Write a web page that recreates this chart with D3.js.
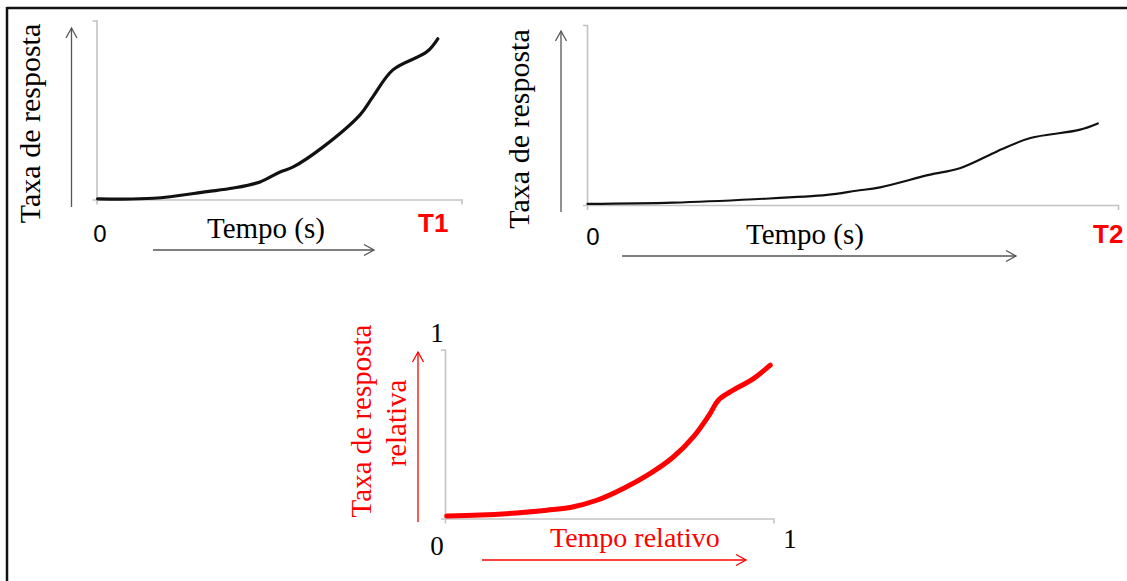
<!DOCTYPE html>
<html>
<head>
<meta charset="utf-8">
<script src="https://cdn.jsdelivr.net/npm/d3@7"></script>
<style>
  html, body { margin: 0; padding: 0; background: #fff; }
  svg { display: block; }
  .serif { font-family: "Liberation Serif", "Times New Roman", serif; }
  .sans { font-family: "Liberation Sans", Arial, sans-serif; }
</style>
</head>
<body>
<svg id="chart" width="1127" height="581"></svg>
<script>
// Response rate over time for run T1 (time and rate as fractions of the axis span)
const t1Time = [0.003, 0.156, 0.303, 0.375, 0.448, 0.503, 0.539, 0.621, 0.722, 0.757, 0.812, 0.905, 0.935];
const t1Rate = [0.004, 0.007, 0.044, 0.064, 0.098, 0.154, 0.182, 0.294, 0.473, 0.573, 0.724, 0.825, 0.898];

// Response rate over time for run T2
const t2Time = [0.001, 0.162, 0.315, 0.452, 0.507, 0.552, 0.644, 0.702, 0.765, 0.782, 0.835, 0.927, 0.962];
const t2Rate = [0.006, 0.013, 0.032, 0.056, 0.079, 0.098, 0.167, 0.204, 0.288, 0.311, 0.372, 0.417, 0.453];

// Relative response rate over relative time
const relTime = [0.005, 0.107, 0.218, 0.310, 0.381, 0.462, 0.543, 0.624, 0.695, 0.756, 0.807, 0.832, 0.868, 0.939, 0.990];
const relRate = [0.015, 0.020, 0.033, 0.049, 0.065, 0.108, 0.178, 0.266, 0.364, 0.483, 0.621, 0.700, 0.749, 0.828, 0.907];

// Text labels
const yLabel = "Taxa de resposta";
const xLabel = "Tempo (s)";
const relYLabel = ["Taxa de resposta", "relativa"];
const relXLabel = "Tempo relativo";
const endLabels = ["T1", "T2"];
const relTicks = ["0", "1"];

const svg = d3.select("#chart");
const RED = "#ff0000";
const AXIS_GREY = "#c3c3c3";
const ARROW_GREY = "#555";

svg.append("rect").attr("width", 1127).attr("height", 581).attr("fill", "#fff");

// outer frame: top and left rules
svg.append("line").attr("x1", 7).attr("x2", 1127).attr("y1", 8).attr("y2", 8)
  .attr("stroke", "#111").attr("stroke-width", 2.5);
svg.append("line").attr("x1", 7).attr("x2", 7).attr("y1", 7).attr("y2", 581)
  .attr("stroke", "#111").attr("stroke-width", 2.5);

// open chevron arrowheads
const defs = svg.append("defs");
function marker(id, color) {
  defs.append("marker")
    .attr("id", id)
    .attr("markerUnits", "userSpaceOnUse")
    .attr("viewBox", "-12 -7 14 14")
    .attr("refX", 0).attr("refY", 0)
    .attr("markerWidth", 14).attr("markerHeight", 14)
    .attr("orient", "auto")
    .append("path")
    .attr("d", "M-10,-5.5 L0,0 L-10,5.5")
    .attr("fill", "none")
    .attr("stroke", color)
    .attr("stroke-width", 1.3);
}
marker("head-grey", ARROW_GREY);
marker("head-red", RED);

function arrow(x1, y1, x2, y2, color, id) {
  svg.append("line")
    .attr("x1", x1).attr("y1", y1).attr("x2", x2).attr("y2", y2)
    .attr("stroke", color).attr("stroke-width", 1.3)
    .attr("marker-end", `url(#${id})`);
}

function axes(x, y) {
  const g = svg.append("g");
  g.append("g")
    .attr("transform", `translate(0,${y.range()[0]})`)
    .call(d3.axisBottom(x).tickValues([]).tickSizeOuter(5));
  g.append("g")
    .attr("transform", `translate(${x.range()[0]},0)`)
    .call(d3.axisLeft(y).tickValues([]).tickSizeOuter(4));
  g.selectAll(".domain").attr("stroke", AXIS_GREY).attr("stroke-width", 1.6);
  return g;
}

function curve(x, y, xs, ys, color, width) {
  const pts = xs.map((v, i) => [v, ys[i]]);
  svg.append("path")
    .datum(pts)
    .attr("fill", "none")
    .attr("stroke", color)
    .attr("stroke-width", width)
    .attr("stroke-linecap", "round")
    .attr("stroke-linejoin", "round")
    .attr("d", d3.line().x(d => x(d[0])).y(d => y(d[1])).curve(d3.curveCatmullRom.alpha(0.5)));
}

function vText(x, y, txt, size, color) {
  svg.append("text")
    .attr("class", "serif")
    .attr("transform", `translate(${x},${y}) rotate(-90)`)
    .attr("text-anchor", "middle")
    .attr("font-size", size)
    .attr("fill", color)
    .text(txt);
}

function hText(x, y, txt, size, color, cls, anchor, weight) {
  svg.append("text")
    .attr("class", cls)
    .attr("x", x).attr("y", y)
    .attr("text-anchor", anchor || "start")
    .attr("font-size", size)
    .attr("font-weight", weight || "normal")
    .attr("fill", color)
    .text(txt);
}

// ---- Panel T1 ----
{
  const x = d3.scaleLinear().domain([0, 1]).range([96.5, 461.5]);
  const y = d3.scaleLinear().domain([0, 1]).range([199.5, 20.5]);
  axes(x, y);
  curve(x, y, t1Time, t1Rate, "#111", 3.2);
  vText(40, 123.5, yLabel, 30, "#000");
  arrow(71.5, 207, 71.5, 28, ARROW_GREY, "head-grey");
  arrow(153, 250, 374, 250, ARROW_GREY, "head-grey");
  hText(100, 242, "0", 24, "#000", "sans", "middle");
  hText(207, 238, xLabel, 29, "#000", "serif");
  hText(418, 232, endLabels[0], 26, RED, "sans", "start", "bold");
}

// ---- Panel T2 ----
{
  const x = d3.scaleLinear().domain([0, 1]).range([587, 1118]);
  const y = d3.scaleLinear().domain([0, 1]).range([205, 25]);
  axes(x, y);
  curve(x, y, t2Time, t2Rate, "#111", 2.2);
  vText(529, 129, yLabel, 30, "#000");
  arrow(561, 212, 561, 31, ARROW_GREY, "head-grey");
  arrow(622, 256, 1016, 256, ARROW_GREY, "head-grey");
  hText(593, 245, "0", 24, "#000", "sans", "middle");
  hText(746, 244, xLabel, 29, "#000", "serif");
  hText(1093, 243, endLabels[1], 26, RED, "sans", "start", "bold");
}

// ---- Relative panel ----
{
  const x = d3.scaleLinear().domain([0, 1]).range([445, 773.5]);
  const y = d3.scaleLinear().domain([0, 1]).range([518.5, 349.5]);
  axes(x, y);
  curve(x, y, relTime, relRate, RED, 5);
  vText(371, 421, relYLabel[0], 29, RED);
  vText(406, 423, relYLabel[1], 29, RED);
  arrow(418, 522, 418, 352, RED, "head-red");
  arrow(482, 560, 746, 560, RED, "head-red");
  hText(437, 342, relTicks[1], 27, "#000", "serif", "middle");
  hText(437, 555, relTicks[0], 27, "#000", "serif", "middle");
  hText(790, 548, relTicks[1], 27, "#000", "serif", "middle");
  hText(550, 547, relXLabel, 28, RED, "serif");
}
</script>
</body>
</html>
